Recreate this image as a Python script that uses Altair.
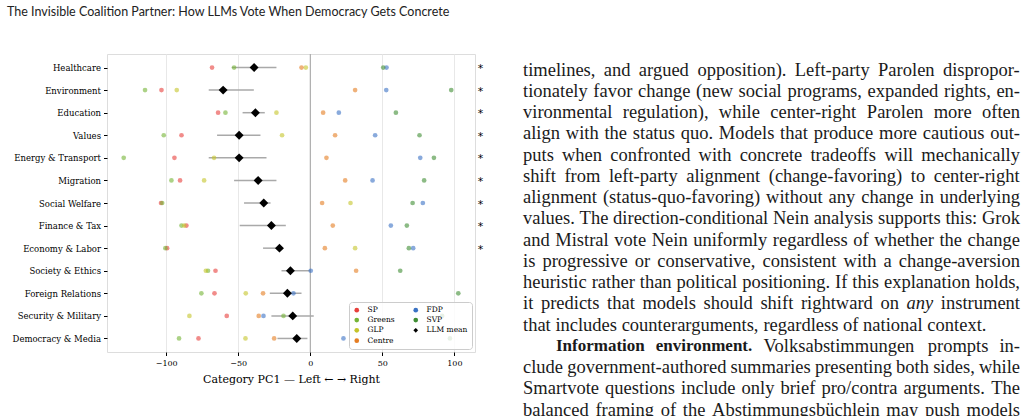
import altair as alt
import pandas as pd

# ---------------- data ----------------
topics = ["Healthcare", "Environment", "Education", "Values", "Energy & Transport",
          "Migration", "Social Welfare", "Finance & Tax", "Economy & Labor",
          "Society & Ethics", "Foreign Relations", "Security & Military", "Democracy & Media"]

sp     = [-68.2, -103.3, -64.0, -89.4, -94.3, -90.4, -103.6, -86.0, -99.4, -65.8, -66.5, -58.0, -77.6]
greens = [-52.9, -114.7, -58.9, -101.7, -129.5, -96.4, -102.8, -89.4, -100.6, -71.0, -75.6, -18.6, -91.1]
glp    = [-3.1, -92.7, -23.5, -19.6, -66.8, -73.7, 27.9, -87.5, 31.1, -72.5, -44.8, -83.9, -45.0]
centre = [-6.1, 31.1, 8.9, 17.2, 11.2, 24.2, 8.2, 15.6, 10.1, 31.8, -32.8, -35.8, -25.1]
fdp    = [52.9, 52.7, 19.8, 45.0, 76.3, 43.2, 78.1, 55.9, 71.4, 0.3, -11.7, -32.5, 23.0]
svp    = [50.6, 97.8, 59.4, 75.8, 85.8, 79.0, 71.0, 67.0, 68.4, 62.4, 102.7, 91.5, 96.9]

llm_mean = [-39.0, -60.5, -38.1, -49.4, -49.4, -36.2, -32.3, -27.0, -21.4, -13.8, -15.9, -12.2, -9.4]
llm_lo   = [-54.5, -70.5, -47.0, -64.7, -70.5, -52.9, -46.0, -49.0, -32.8, -20.0, -28.1, -27.0, -22.8]
llm_hi   = [-23.5, -39.2, -31.6, -34.6, -30.4, -23.5, -27.6, -17.0, -18.9, 0.3, -6.1, 2.4, -2.0]
significant = [True, True, True, True, True, True, True, True, True, False, False, False, False]

legend_order = ["SP", "Greens", "GLP", "Centre", "FDP", "SVP", "LLM mean"]
legend_colors = ["#e8403c", "#74b436", "#c4c42a", "#e57d22", "#3a72c4", "#3f8e34", "#000000"]
legend_shapes = ["circle", "circle", "circle", "circle", "circle", "circle", "diamond"]

header = "The Invisible Coalition Partner: How LLMs Vote When Democracy Gets Concrete"
body_lines = [
    "timelines, and argued opposition). Left-party Parolen dispropor-",
    "tionately favor change (new social programs, expanded rights, en-",
    "vironmental regulation), while center-right Parolen more often",
    "align with the status quo. Models that produce more cautious out-",
    "puts when confronted with concrete tradeoffs will mechanically",
    "shift from left-party alignment (change-favoring) to center-right",
    "alignment (status-quo-favoring) without any change in underlying",
    "values. The direction-conditional Nein analysis supports this: Grok",
    "and Mistral vote Nein uniformly regardless of whether the change",
    "is progressive or conservative, consistent with a change-aversion",
    "heuristic rather than political positioning. If this explanation holds,",
    [("it predicts that models should shift rightward on", "normal"), ("any", "italic"), ("instrument", "normal")],
    "that includes counterarguments, regardless of national context.",
    [("Information environment.", "bold"), ("Volksabstimmungen prompts in-", "normal")],
    "clude government-authored summaries presenting both sides, while",
    "Smartvote questions include only brief pro/contra arguments. The",
    "balanced framing of the Abstimmungsbüchlein may push models",
]
paragraph_end_lines = [12]
indented_lines = [13]

# ---------------- frames ----------------
party_series = {"SP": sp, "Greens": greens, "GLP": glp, "Centre": centre, "FDP": fdp, "SVP": svp}
rows = []
for name, vals in party_series.items():
    for t, v in zip(topics, vals):
        rows.append({"topic": t, "series": name, "value": v})
pts = pd.DataFrame(rows)

means = pd.DataFrame({"topic": topics, "mean": llm_mean, "lo": llm_lo, "hi": llm_hi,
                      "series": ["LLM mean"] * len(topics)})
stars = pd.DataFrame({"topic": [t for t, s in zip(topics, significant) if s]})
stars["star"] = "*"
zero = pd.DataFrame({"x": [0]})

# ---------------- layout ----------------
W, H = 368, 298
PAD_L, PAD_T = 107, 54
SERIF = "DejaVu Serif"
BODY = "Liberation Serif"
SIZES = {"normal": 18.5, "italic": 18.5, "bold": 17}

# Times-compatible advance widths (1/1000 em) used to justify the text column
_TR = dict(zip("abcdefghijklmnopqrstuvwxyz",
               [444, 500, 444, 500, 444, 333, 500, 500, 278, 278, 500, 278, 778,
                500, 500, 500, 500, 333, 389, 278, 500, 500, 722, 500, 500, 444]))
_TR.update(dict(zip("ABCDEFGHIJKLMNOPQRSTUVWXYZ",
                    [722, 667, 667, 722, 611, 556, 722, 722, 333, 389, 722, 611, 889,
                     722, 722, 556, 722, 667, 556, 611, 722, 722, 944, 722, 722, 611])))
_TR.update({" ": 250, ",": 250, ".": 250, "-": 333, "(": 333, ")": 333, ":": 278,
            "/": 278, "ü": 500})
_TB = dict(_TR)
_TB.update(dict(zip("abcdefghijklmnopqrstuvwxyz",
                    [500, 556, 444, 556, 444, 333, 500, 556, 278, 333, 556, 278, 833,
                     556, 500, 556, 556, 444, 389, 333, 556, 500, 722, 500, 500, 444])))
_TB.update({"I": 389})
_TI = dict(_TR)
_TI.update({"a": 500, "n": 500, "y": 444})
METRICS = {"normal": _TR, "bold": _TB, "italic": _TI}


def word_w(w, style):
    return sum(METRICS[style].get(c, 500) for c in w) * SIZES[style] / 1000.0


COL_L, COL_R = 523, 1020
LINE0, LH = 69.5, 21.25
word_rows = []
for i, line in enumerate(body_lines):
    segs = [(line, "normal")] if isinstance(line, str) else line
    tokens = [(w, st) for s, st in segs for w in s.split(" ")]
    left = COL_L + (33 if i in indented_lines else 0)
    widths = [word_w(w, st) for w, st in tokens]
    if i in paragraph_end_lines:
        gap = 250 * SIZES["normal"] / 1000.0
    else:
        gap = (COL_R - left - sum(widths)) / (len(tokens) - 1)
    x = left
    for (w, st), ww in zip(tokens, widths):
        word_rows.append({"text": w, "style": st, "px": x - PAD_L, "py": LINE0 + LH * i - PAD_T})
        x += ww + gap
words = pd.DataFrame(word_rows)

x_scale = alt.Scale(domain=[-141.1, 114.3], nice=False, zero=False)
y_scale = alt.Scale(type="point", padding=0.6)

color_scale = alt.Scale(domain=legend_order, range=legend_colors)
shape_scale = alt.Scale(domain=legend_order, range=legend_shapes)
legend = alt.Legend(title=None, orient="bottom-right", offset=3, columns=2,
                    fillColor="rgba(255,255,255,0.8)", strokeColor="#cccccc",
                    cornerRadius=3, padding=4, labelFont=SERIF, labelFontSize=7.5,
                    labelColor="black", symbolSize=22, symbolOpacity=1,
                    symbolStrokeWidth=0, rowPadding=1.3, columnPadding=17, labelOffset=7)

x_enc_axis = alt.Axis(values=[-100, -50, 0, 50, 100], format="d", grid=True,
                      gridColor="#e8e8e8", gridWidth=1, domain=False,
                      tickColor="black", tickSize=3.5, labelPadding=3.5,
                      labelFont=SERIF, labelFontSize=8, labelColor="black",
                      title="Category PC1 \u2014 Left \u2190 \u2192 Right",
                      titleFont=SERIF, titleFontSize=11, titleFontWeight="normal",
                      titleColor="black", titlePadding=6.5)
y_enc = alt.Y("topic:N", sort=topics, scale=y_scale,
              axis=alt.Axis(title=None, grid=False, domain=False, tickColor="black",
                            tickSize=3.5, labelPadding=3, labelFont=SERIF,
                            labelFontSize=8.5, labelColor="black"))

base_x = alt.X("value:Q", scale=x_scale, axis=x_enc_axis)

zero_layer = alt.Chart(zero).mark_rule(color="#a8a8a8", strokeWidth=1.1).encode(
    x=alt.X("x:Q", scale=x_scale, axis=x_enc_axis))

err_layer = alt.Chart(means).mark_rule(color="#a9a9a9", strokeWidth=1.5).encode(
    x=alt.X("lo:Q", scale=x_scale, axis=x_enc_axis), x2="hi:Q", y=y_enc)

pts_layer = alt.Chart(pts).mark_point(filled=True, size=22, opacity=0.6, strokeWidth=0).encode(
    x=base_x, y=y_enc,
    color=alt.Color("series:N", scale=color_scale, legend=legend),
    shape=alt.Shape("series:N", scale=shape_scale, legend=legend))

mean_layer = alt.Chart(means).mark_point(filled=True, size=80, opacity=1, strokeWidth=0).encode(
    x=alt.X("mean:Q", scale=x_scale, axis=x_enc_axis), y=y_enc,
    color=alt.Color("series:N", scale=color_scale, legend=legend),
    shape=alt.Shape("series:N", scale=shape_scale, legend=legend))

star_layer = alt.Chart(stars).mark_text(font="DejaVu Sans", fontSize=11, align="center",
                                        baseline="middle", dy=1.5, color="#000000").encode(
    x=alt.value(W + 5.5), y=y_enc, text="star:N")

header_layer = alt.Chart(pd.DataFrame({"t": [header]})).mark_text(
    font="Lato", fontSize=12.5, align="left", baseline="middle", color="#222222").encode(
    x=alt.value(7 - PAD_L), y=alt.value(12 - PAD_T), text="t:N")

word_layers = []
for st in ["normal", "bold", "italic"]:
    word_layers.append(
        alt.Chart(words[words["style"] == st]).mark_text(
            font=BODY, fontSize=SIZES[st], align="left", baseline="middle",
            fontWeight="bold" if st == "bold" else "normal",
            fontStyle="italic" if st == "italic" else "normal", color="#1a1a1a").encode(
            x=alt.X("px:Q", scale=None, axis=None),
            y=alt.Y("py:Q", scale=None, axis=None),
            text="text:N"))

chart = alt.layer(zero_layer, err_layer, pts_layer, mean_layer, star_layer, header_layer,
                  *word_layers).properties(
    width=W, height=H,
    autosize=alt.AutoSizeParams(type="none"),
    padding={"left": PAD_L, "top": PAD_T, "right": 1025 - PAD_L - W, "bottom": 416 - PAD_T - H},
).configure_view(stroke="black", strokeWidth=1).configure(background="white")

chart.save("out.html", embed_options={"renderer": "svg", "actions": False})
